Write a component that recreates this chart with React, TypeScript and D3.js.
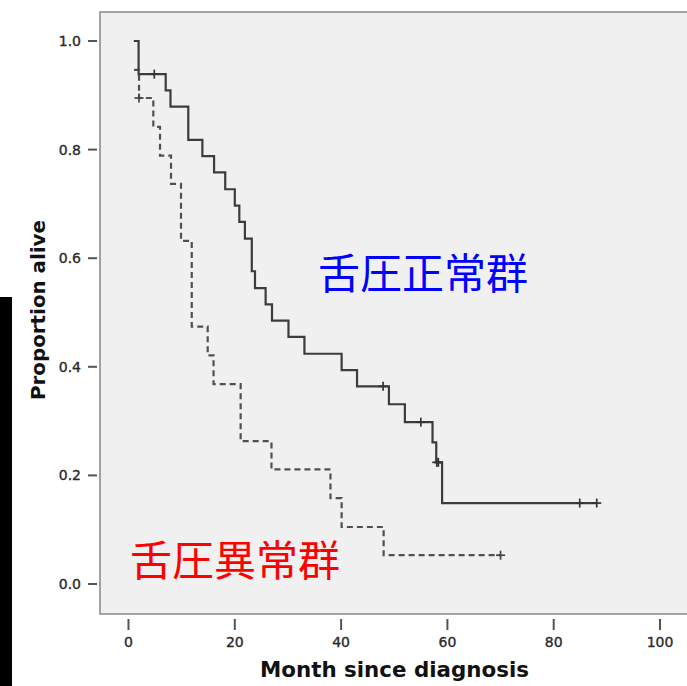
import React from "react";
import * as d3 from "d3";

// ---- Data ----
// 舌圧正常群 (solid line): step times (months) and survival after each step
const normalTime = [1.0, 1.9, 7.0, 7.9, 11.25, 13.9, 16.1, 18.2, 20.0, 20.85, 21.9, 23.2, 23.8, 25.8, 27.0, 30.1, 33.1, 40.1, 43.0, 49.0, 52.0, 57.2, 57.9, 59.0];
const normalSurv = [1.0, 0.939, 0.909, 0.879, 0.818, 0.788, 0.758, 0.727, 0.697, 0.667, 0.636, 0.576, 0.545, 0.515, 0.485, 0.455, 0.424, 0.394, 0.364, 0.331, 0.298, 0.261, 0.224, 0.149];
const normalEnd = 88.1;
const normalCensor = [4.85, 47.9, 55.0, 58.0, 58.3, 84.9, 88.1];

// 舌圧異常群 (dashed line)
const abnormalTime = [1.05, 1.98, 4.67, 5.93, 8.0, 9.88, 11.9, 14.9, 16.0, 21.1, 26.9, 38.0, 40.1, 48.0];
const abnormalSurv = [0.947, 0.895, 0.842, 0.789, 0.737, 0.632, 0.474, 0.421, 0.368, 0.263, 0.211, 0.158, 0.105, 0.053];
const abnormalEnd = 70.0;
const abnormalCensor = [1.98, 70.0];

const xTicks = [0, 20, 40, 60, 80, 100];
const yTicks = [0.0, 0.2, 0.4, 0.6, 0.8, 1.0];

const xTitle = "Month since diagnosis";
const yTitle = "Proportion alive";
const normalLabel = "舌圧正常群";
const abnormalLabel = "舌圧異常群";

function valueAt(times: number[], surv: number[], t: number) {
  let v = surv[0];
  for (let i = 0; i < times.length; i++) {
    if (times[i] <= t + 1e-9) v = surv[i];
  }
  return v;
}

export default function App() {
  const W = 687;
  const H = 686;
  const plot = { left: 100, top: 12, right: 700, bottom: 614 };

  const x = d3.scaleLinear().domain([0, 100]).range([128.5, 660]);
  const y = d3.scaleLinear().domain([0, 1]).range([584, 41]);

  const line = d3
    .line<[number, number]>()
    .x((d) => x(d[0]))
    .y((d) => y(d[1]))
    .curve(d3.curveStepAfter);

  const normalPts: [number, number][] = normalTime.map((t, i) => [t, normalSurv[i]]);
  normalPts.push([normalEnd, normalSurv[normalSurv.length - 1]]);
  const abnormalPts: [number, number][] = abnormalTime.map((t, i) => [t, abnormalSurv[i]]);
  abnormalPts.push([abnormalEnd, abnormalSurv[abnormalSurv.length - 1]]);

  const fmt = d3.format(".1f");
  const tickFont = "'DejaVu Sans', 'Liberation Sans', Arial, sans-serif";
  const cs = 4.5;

  const censorMarks = (times: number[], tt: number[], ss: number[], color: string, key: string) =>
    times.map((t, i) => {
      const cx = x(t);
      const cy = y(valueAt(tt, ss, t));
      return (
        <g key={key + i} stroke={color} strokeWidth={1.7}>
          <line x1={cx - cs} x2={cx + cs} y1={cy} y2={cy} />
          <line x1={cx} x2={cx} y1={cy - cs} y2={cy + cs} />
        </g>
      );
    });

  return (
    <svg
      width={W}
      height={H}
      style={{ position: "absolute", left: 0, top: 0, background: "#ffffff" }}
    >
      <rect x={0} y={0} width={W} height={H} fill="#ffffff" />
      {/* black bar on the left */}
      <rect x={0} y={297} width={12} height={H - 297} fill="#000000" />

      {/* plot background & frame */}
      <rect
        x={plot.left}
        y={plot.top}
        width={plot.right - plot.left}
        height={plot.bottom - plot.top}
        fill="#f0f0f0"
        stroke="#999"
        strokeWidth={1.8}
      />

      {/* y axis ticks */}
      {yTicks.map((v) => (
        <g key={"y" + v}>
          <line x1={88} x2={97} y1={y(v)} y2={y(v)} stroke="#555" strokeWidth={2} />
          <text
            x={81}
            y={y(v)}
            textAnchor="end"
            dominantBaseline="central"
            fontFamily={tickFont}
            fontSize={14}
            fill="#2a2a2a"
            stroke="#2a2a2a"
            strokeWidth={0.35}
          >
            {fmt(v)}
          </text>
        </g>
      ))}

      {/* x axis ticks */}
      {xTicks.map((v) => (
        <g key={"x" + v}>
          <line x1={x(v)} x2={x(v)} y1={619} y2={630} stroke="#555" strokeWidth={2} />
          <text
            x={x(v)}
            y={647}
            textAnchor="middle"
            fontFamily={tickFont}
            fontSize={14}
            fill="#2a2a2a"
            stroke="#2a2a2a"
            strokeWidth={0.35}
          >
            {v}
          </text>
        </g>
      ))}

      {/* axis titles */}
      <text
        x={394.5}
        y={677}
        textAnchor="middle"
        fontFamily="'DejaVu Sans', Arial, sans-serif"
        fontWeight="bold"
        fontSize={21}
        fill="#111"
        textLength={269}
        lengthAdjust="spacingAndGlyphs"
      >
        {xTitle}
      </text>
      <text
        transform="translate(37.5,310) rotate(-90)"
        textAnchor="middle"
        dominantBaseline="central"
        fontFamily="'DejaVu Sans', Arial, sans-serif"
        fontWeight="bold"
        fontSize={20}
        fill="#111"
        textLength={180}
        lengthAdjust="spacingAndGlyphs"
      >
        {yTitle}
      </text>

      {/* curves */}
      <path
        d={line(abnormalPts) || ""}
        fill="none"
        stroke="#505050"
        strokeWidth={2.2}
        strokeDasharray="6,4"
      />
      <path d={line(normalPts) || ""} fill="none" stroke="#3c3c3c" strokeWidth={2.2} />

      {censorMarks(abnormalCensor, abnormalTime, abnormalSurv, "#444", "ac")}
      {censorMarks(normalCensor, normalTime, normalSurv, "#333", "nc")}

      {/* group labels */}
      <text
        x={318}
        y={270}
        dominantBaseline="central"
        fontFamily="'Noto Sans CJK JP', 'Noto Sans CJK SC', sans-serif"
        fontSize={42}
        fill="#0000ff"
      >
        {normalLabel}
      </text>
      <text
        x={130}
        y={557}
        dominantBaseline="central"
        fontFamily="'Noto Sans CJK JP', 'Noto Sans CJK SC', sans-serif"
        fontSize={42}
        fill="#ff0000"
      >
        {abnormalLabel}
      </text>
    </svg>
  );
}
